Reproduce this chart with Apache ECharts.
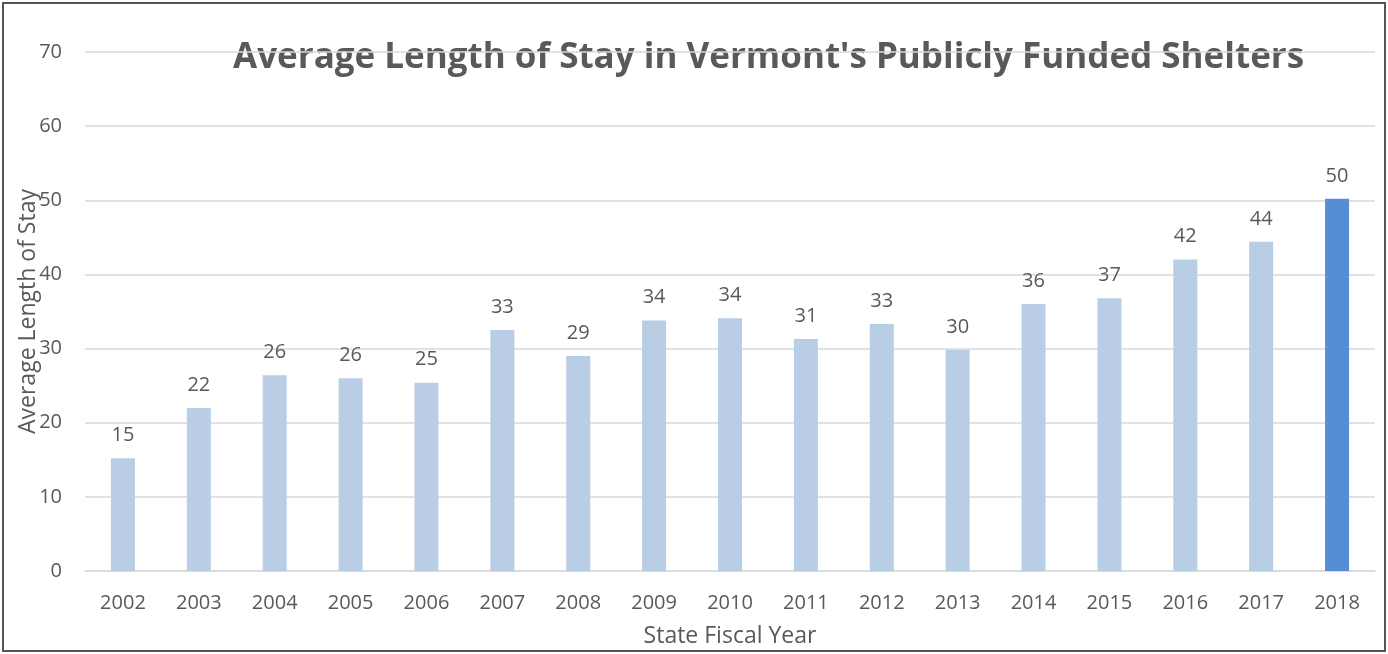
<!DOCTYPE html>
<html>
<head>
<meta charset="utf-8">
<script src="https://cdn.jsdelivr.net/npm/echarts@6/dist/echarts.min.js"></script>
<style>
  html, body { margin: 0; padding: 0; background: #fff; }
  #chart { width: 1388px; height: 654px; }
</style>
</head>
<body>
<div id="chart"></div>
<script>
// Fiscal years shown along the x axis
const years = ['2002', '2003', '2004', '2005', '2006', '2007', '2008', '2009', '2010',
  '2011', '2012', '2013', '2014', '2015', '2016', '2017', '2018'];
// Average length of stay (days) for each fiscal year
const avgStay = [15.2, 22.0, 26.4, 26.0, 25.4, 32.5, 29.0, 33.8, 34.1,
  31.3, 33.3, 29.8, 36.0, 36.8, 42.0, 44.4, 50.2];
// Y axis range and step
const yMin = 0, yMax = 70, yStep = 10;

const textColor = '#595959';
const fontFamily = '"Open Sans", "Noto Sans", sans-serif';
const lastIndex = years.length - 1;

const chart = echarts.init(document.getElementById('chart'), null, { renderer: 'canvas' });

chart.setOption({
  animation: false,
  backgroundColor: '#ffffff',
  textStyle: { fontFamily: fontFamily, color: textColor },
  title: {
    text: "Average Length of Stay in Vermont's Publicly Funded Shelters",
    left: 233,
    top: 41,
    padding: 0,
    z: -1,
    textStyle: { fontFamily: fontFamily, fontWeight: 'bold', fontSize: 35, color: textColor }
  },
  grid: { left: 85, right: 13, top: 52, bottom: 83, containLabel: false },
  xAxis: {
    type: 'category',
    data: years,
    name: 'State Fiscal Year',
    nameLocation: 'middle',
    nameGap: 54,
    nameMoveOverlap: false,
    nameTextStyle: { fontSize: 23, color: textColor, fontFamily: fontFamily },
    axisLine: { show: true, lineStyle: { color: '#d9d9d9', width: 1.5 } },
    axisTick: { show: false },
    axisLabel: { fontSize: 20, color: textColor, margin: 22, fontFamily: fontFamily }
  },
  yAxis: {
    type: 'value',
    min: yMin,
    max: yMax,
    interval: yStep,
    name: 'Average Length of Stay',
    nameLocation: 'middle',
    nameGap: 45,
    nameMoveOverlap: false,
    nameTextStyle: { fontSize: 23, color: textColor, fontFamily: fontFamily },
    axisLine: { show: false },
    axisTick: { show: false },
    axisLabel: { fontSize: 20, color: textColor, margin: 23, fontFamily: fontFamily },
    splitLine: { lineStyle: { color: '#d9d9d9', width: 1.5 } }
  },
  series: [{
    type: 'bar',
    data: avgStay.map((v, i) => ({
      value: v,
      itemStyle: { color: i === lastIndex ? '#558ed5' : '#b9cde5' }
    })),
    barWidth: 24,
    label: {
      show: true,
      position: 'top',
      distance: 13,
      fontSize: 20,
      color: textColor,
      fontFamily: fontFamily,
      formatter: p => Math.round(p.value)
    }
  }],
  graphic: [{
    type: 'rect',
    shape: { x: 3, y: 3, width: 1382, height: 648 },
    style: { fill: 'none', stroke: '#555555', lineWidth: 2 },
    silent: true,
    z: 100
  }]
});
</script>
</body>
</html>
